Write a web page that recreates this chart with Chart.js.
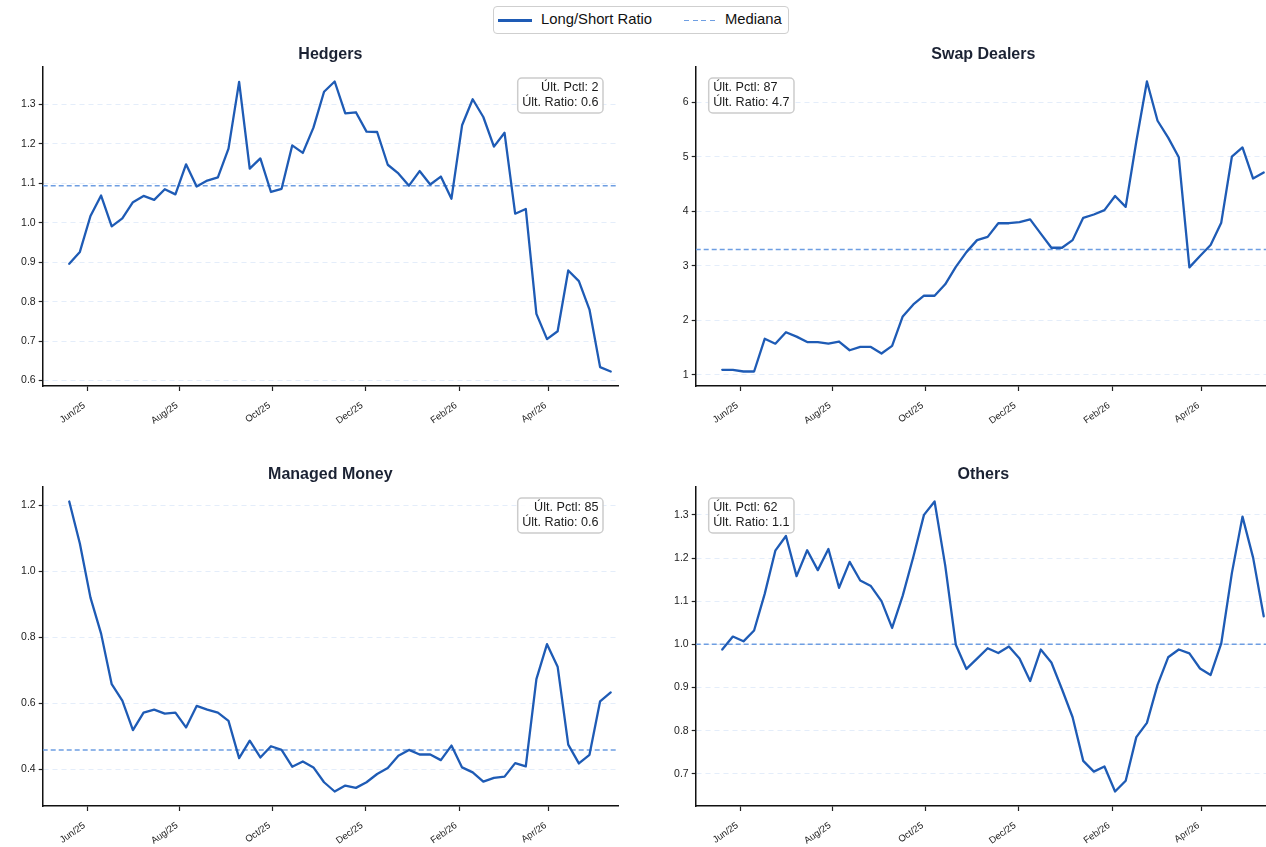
<!DOCTYPE html>
<html>
<head>
<meta charset="utf-8">
<script src="https://cdn.jsdelivr.net/npm/chart.js@4.4.1/dist/chart.umd.min.js"></script>
<style>
  body { margin: 0; background: #fff; overflow: hidden; font-family: "Liberation Sans", Arial, sans-serif; }
  #page { position: relative; width: 1266px; height: 847px; overflow: hidden; }
  canvas { position: absolute; }
  .legend {
    position: absolute; left: 493px; top: 6px; width: 294px; height: 26px;
    border: 1px solid #cfcfcf; border-radius: 4px; background: #fff;
    font-size: 14.8px; color: #111;
  }
  .legend span { position: absolute; }
  .sw1 { left: 4px; top: 12px; width: 34px; height: 2.5px; background: #1e5bb5; }
  .sw2 { left: 190px; top: 12.5px; width: 32px; height: 1.5px;
         background: repeating-linear-gradient(90deg, #6e9ee2 0 5px, transparent 5px 8.5px); }
  .t1 { left: 47px; top: 4px; }
  .t2 { left: 231px; top: 4px; }
</style>
</head>
<body>
<div id="page">
  <div class="legend">
    <span class="sw1"></span><span class="t1">Long/Short Ratio</span>
    <span class="sw2"></span><span class="t2">Mediana</span>
  </div>
  <canvas id="c0" width="640" height="405" style="left:0;top:38px"></canvas>
  <canvas id="c1" width="640" height="405" style="left:653px;top:38px"></canvas>
  <canvas id="c2" width="640" height="405" style="left:0;top:458px"></canvas>
  <canvas id="c3" width="640" height="405" style="left:653px;top:458px"></canvas>
</div>
<script>
// weekly report dates (Tuesdays)
const dates = [
  '2025-05-20','2025-05-27','2025-06-03','2025-06-10','2025-06-17','2025-06-24',
  '2025-07-01','2025-07-08','2025-07-15','2025-07-22','2025-07-29',
  '2025-08-05','2025-08-12','2025-08-19','2025-08-26',
  '2025-09-02','2025-09-09','2025-09-16','2025-09-23','2025-09-30',
  '2025-10-07','2025-10-14','2025-10-21','2025-10-28',
  '2025-11-04','2025-11-11','2025-11-18','2025-11-25',
  '2025-12-02','2025-12-09','2025-12-16','2025-12-23','2025-12-30',
  '2026-01-06','2026-01-13','2026-01-20','2026-01-27',
  '2026-02-03','2026-02-10','2026-02-17','2026-02-24',
  '2026-03-03','2026-03-10','2026-03-17','2026-03-24','2026-03-31',
  '2026-04-07','2026-04-14','2026-04-21','2026-04-28',
  '2026-05-05','2026-05-12'
];

const tickDates = ['2025-06-01','2025-08-01','2025-10-01','2025-12-01','2026-02-01','2026-04-01'];
const tickLabels = ['Jun/25','Aug/25','Oct/25','Dec/25','Feb/26','Apr/26'];

const hedgers = [0.896,0.926,1.017,1.069,0.991,1.011,1.052,1.068,1.058,1.085,
  1.072,1.148,1.092,1.107,1.115,1.188,1.357,1.137,1.163,1.078,
  1.086,1.196,1.177,1.241,1.332,1.358,1.277,1.280,1.231,1.230,
  1.147,1.125,1.094,1.131,1.097,1.117,1.061,1.247,1.313,1.268,
  1.193,1.228,1.023,1.035,0.769,0.705,0.725,0.879,0.852,0.780,
  0.634,0.623];

const swapDealers = [1.09,1.09,1.06,1.06,1.66,1.57,1.78,1.70,1.60,1.60,
  1.57,1.61,1.45,1.51,1.51,1.39,1.53,2.07,2.29,2.45,
  2.45,2.66,2.98,3.25,3.47,3.53,3.78,3.78,3.80,3.85,
  3.59,3.33,3.33,3.47,3.88,3.94,4.02,4.28,4.08,5.28,
  6.38,5.66,5.35,4.99,2.97,3.18,3.38,3.79,5.00,5.17,
  4.60,4.71];

const managedMoney = [1.211,1.084,0.920,0.811,0.658,0.608,0.519,0.572,0.581,0.569,
  0.572,0.527,0.592,0.581,0.572,0.547,0.434,0.487,0.436,0.470,
  0.459,0.408,0.424,0.406,0.361,0.333,0.351,0.344,0.361,0.386,
  0.404,0.441,0.459,0.445,0.445,0.428,0.472,0.406,0.391,0.363,
  0.374,0.378,0.419,0.409,0.673,0.779,0.711,0.475,0.418,0.444,
  0.606,0.633];

const others = [0.988,1.018,1.007,1.032,1.117,1.217,1.251,1.158,1.218,1.172,
  1.221,1.131,1.191,1.148,1.135,1.100,1.038,1.113,1.203,1.300,
  1.331,1.183,0.999,0.943,0.967,0.991,0.980,0.995,0.967,0.915,
  0.988,0.958,0.896,0.831,0.730,0.705,0.717,0.659,0.684,0.785,
  0.818,0.906,0.970,0.988,0.979,0.944,0.929,1.002,1.165,1.296,
  1.201,1.065];

const titles = ['Hedgers', 'Swap Dealers', 'Managed Money', 'Others'];
const medians = [1.094, 3.30, 0.459, 1.00];
const lastPctl = [2, 87, 85, 62];

const LINE = '#1e5bb5';
const MED = '#6e9ee2';
const FONT = '"Liberation Sans", Arial, sans-serif';

const dayNum = s => {
  const [y, m, d] = s.split('-').map(Number);
  return Date.UTC(y, m - 1, d) / 86400000;
};

const xMin = dayNum(dates[0]) - 17.5;
const xMax = dayNum(dates[dates.length - 1]) + 4.8;

const titlePlugin = {
  id: 'panelTitle',
  afterDraw(chart, args, opts) {
    const { ctx, chartArea: a } = chart;
    ctx.save();
    ctx.font = 'bold 16px ' + FONT;
    ctx.fillStyle = '#1b2233';
    ctx.textAlign = 'center';
    ctx.textBaseline = 'middle';
    ctx.fillText(opts.text, (a.left + a.right) / 2, a.top - 12.5);
    ctx.restore();
  }
};

const boxPlugin = {
  id: 'lastBox',
  afterDraw(chart, args, opts) {
    const { ctx, chartArea: a } = chart;
    ctx.save();
    ctx.font = '12.6px ' + FONT;
    const lines = opts.lines;
    const w = Math.max(...lines.map(l => ctx.measureText(l).width)) + 9;
    const h = 35;
    const right = opts.side === 'right';
    const x = right ? a.right - 15 - w : a.left + 13;
    const y = a.top + 11;
    ctx.beginPath();
    ctx.roundRect(x, y, w, h, 4);
    ctx.fillStyle = 'rgba(255,255,255,0.85)';
    ctx.fill();
    ctx.strokeStyle = '#cccccc';
    ctx.lineWidth = 1.5;
    ctx.stroke();
    ctx.fillStyle = '#1a1a1a';
    ctx.textBaseline = 'middle';
    ctx.textAlign = right ? 'right' : 'left';
    const tx = right ? x + w - 4.5 : x + 4.5;
    lines.forEach((l, i) => ctx.fillText(l, tx, y + 10 + i * 15));
    ctx.restore();
  }
};

function makePanel(id, title, values, median, pctl, step, decimals, side) {
  const lo = Math.min(...values), hi = Math.max(...values);
  const pad = (hi - lo) * 0.05;
  new Chart(document.getElementById(id), {
    type: 'line',
    data: {
      datasets: [
        {
          data: dates.map((d, i) => ({ x: dayNum(d), y: values[i] })),
          borderColor: LINE,
          borderWidth: 2.3,
          borderJoinStyle: 'round',
          borderCapStyle: 'round',
          pointRadius: 0,
          tension: 0,
          order: 0
        },
        {
          data: [{ x: xMin, y: median }, { x: xMax, y: median }],
          borderColor: MED,
          borderWidth: 1.5,
          borderDash: [5, 3],
          pointRadius: 0,
          order: 1
        }
      ]
    },
    options: {
      responsive: false,
      animation: false,
      events: [],
      layout: { padding: { top: 29, left: 0, right: 22, bottom: 0 } },
      plugins: {
        legend: { display: false },
        tooltip: { enabled: false },
        panelTitle: { text: title },
        lastBox: {
          side: side,
          lines: ['Últ. Pctl: ' + pctl, 'Últ. Ratio: ' + values[values.length - 1].toFixed(1)]
        }
      },
      scales: {
        x: {
          type: 'linear',
          min: xMin,
          max: xMax,
          afterBuildTicks: s => { s.ticks = tickDates.map(d => ({ value: dayNum(d) })); },
          afterFit: s => { s.height = 57; },
          grid: { drawOnChartArea: false, drawTicks: true, tickLength: 5, tickWidth: 1.2, tickColor: '#222' },
          border: { display: true, color: '#111', width: 1.5 },
          ticks: {
            autoSkip: false,
            maxRotation: 35,
            minRotation: 35,
            padding: 9,
            labelOffset: -3,
            color: '#222',
            font: { family: FONT, size: 9.5 },
            callback: (v, i) => tickLabels[i]
          }
        },
        y: {
          type: 'linear',
          min: lo - pad,
          max: hi + pad,
          afterFit: s => { s.width = 42.7; },
          grid: { color: 'rgba(205,222,245,0.55)', lineWidth: 1, drawTicks: true, tickLength: 4, tickWidth: 1.2, tickColor: '#222' },
          border: { display: true, color: '#111', width: 1.5, dash: [5, 4] },
          ticks: {
            stepSize: step,
            includeBounds: false,
            padding: 3,
            color: '#222',
            font: { family: FONT, size: 10.5 },
            callback: v => Number(v).toFixed(decimals)
          }
        }
      }
    },
    plugins: [titlePlugin, boxPlugin]
  });
}

makePanel('c0', titles[0], hedgers, medians[0], lastPctl[0], 0.1, 1, 'right');
makePanel('c1', titles[1], swapDealers, medians[1], lastPctl[1], 1, 0, 'left');
makePanel('c2', titles[2], managedMoney, medians[2], lastPctl[2], 0.2, 1, 'right');
makePanel('c3', titles[3], others, medians[3], lastPctl[3], 0.1, 1, 'left');
</script>
</body>
</html>
